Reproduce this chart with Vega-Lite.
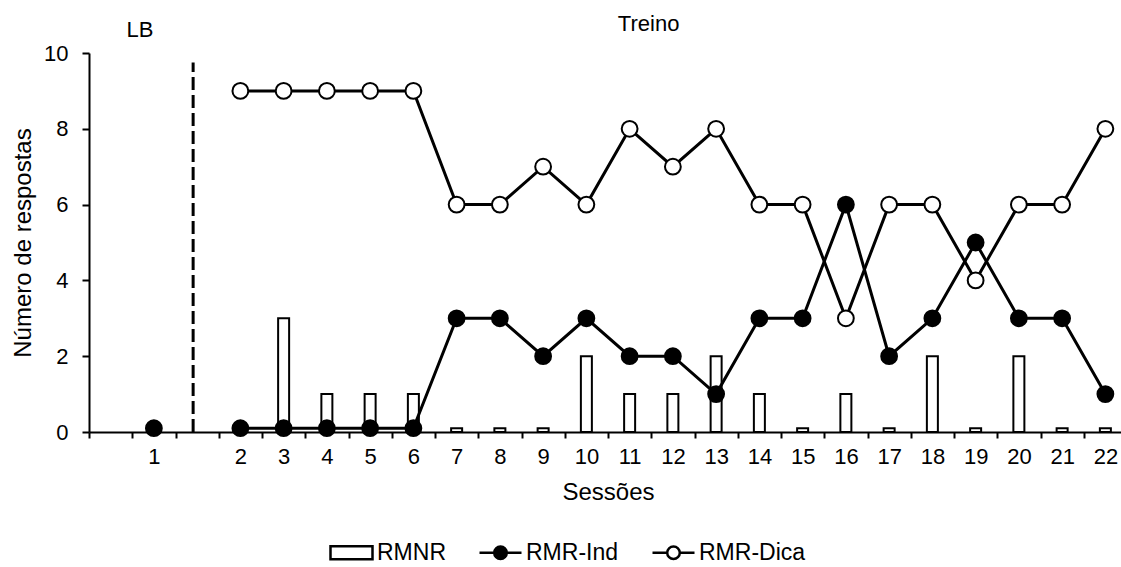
{
  "$schema": "https://vega.github.io/schema/vega-lite/v6.json",
  "width": 1038,
  "height": 379,
  "autosize": "none",
  "padding": {"left": 89, "top": 53, "right": 0, "bottom": 135},
  "background": "white",
  "config": {
    "font": "Liberation Sans",
    "view": {"stroke": null},
    "axis": {
      "labelFont": "Liberation Sans",
      "titleFont": "Liberation Sans",
      "labelFontSize": 22,
      "titleFontSize": 24,
      "titleFontWeight": "normal",
      "labelColor": "black",
      "titleColor": "black",
      "domainColor": "black",
      "tickColor": "black",
      "domainWidth": 2,
      "tickWidth": 2,
      "grid": false
    },
    "legend": {
      "labelFont": "Liberation Sans",
      "labelFontSize": 23,
      "labelColor": "black"
    }
  },
  "datasets": {
    "main": [
      {"session": 2, "series": "RMNR", "phase": "Treino", "value": 0.1},
      {"session": 3, "series": "RMNR", "phase": "Treino", "value": 3},
      {"session": 4, "series": "RMNR", "phase": "Treino", "value": 1},
      {"session": 5, "series": "RMNR", "phase": "Treino", "value": 1},
      {"session": 6, "series": "RMNR", "phase": "Treino", "value": 1},
      {"session": 7, "series": "RMNR", "phase": "Treino", "value": 0.1},
      {"session": 8, "series": "RMNR", "phase": "Treino", "value": 0.1},
      {"session": 9, "series": "RMNR", "phase": "Treino", "value": 0.1},
      {"session": 10, "series": "RMNR", "phase": "Treino", "value": 2},
      {"session": 11, "series": "RMNR", "phase": "Treino", "value": 1},
      {"session": 12, "series": "RMNR", "phase": "Treino", "value": 1},
      {"session": 13, "series": "RMNR", "phase": "Treino", "value": 2},
      {"session": 14, "series": "RMNR", "phase": "Treino", "value": 1},
      {"session": 15, "series": "RMNR", "phase": "Treino", "value": 0.1},
      {"session": 16, "series": "RMNR", "phase": "Treino", "value": 1},
      {"session": 17, "series": "RMNR", "phase": "Treino", "value": 0.1},
      {"session": 18, "series": "RMNR", "phase": "Treino", "value": 2},
      {"session": 19, "series": "RMNR", "phase": "Treino", "value": 0.1},
      {"session": 20, "series": "RMNR", "phase": "Treino", "value": 2},
      {"session": 21, "series": "RMNR", "phase": "Treino", "value": 0.1},
      {"session": 22, "series": "RMNR", "phase": "Treino", "value": 0.1},
      {"session": 1, "series": "RMR-Ind", "phase": "LB", "value": 0.1},
      {"session": 2, "series": "RMR-Ind", "phase": "Treino", "value": 0.1},
      {"session": 3, "series": "RMR-Ind", "phase": "Treino", "value": 0.1},
      {"session": 4, "series": "RMR-Ind", "phase": "Treino", "value": 0.1},
      {"session": 5, "series": "RMR-Ind", "phase": "Treino", "value": 0.1},
      {"session": 6, "series": "RMR-Ind", "phase": "Treino", "value": 0.1},
      {"session": 7, "series": "RMR-Ind", "phase": "Treino", "value": 3},
      {"session": 8, "series": "RMR-Ind", "phase": "Treino", "value": 3},
      {"session": 9, "series": "RMR-Ind", "phase": "Treino", "value": 2},
      {"session": 10, "series": "RMR-Ind", "phase": "Treino", "value": 3},
      {"session": 11, "series": "RMR-Ind", "phase": "Treino", "value": 2},
      {"session": 12, "series": "RMR-Ind", "phase": "Treino", "value": 2},
      {"session": 13, "series": "RMR-Ind", "phase": "Treino", "value": 1},
      {"session": 14, "series": "RMR-Ind", "phase": "Treino", "value": 3},
      {"session": 15, "series": "RMR-Ind", "phase": "Treino", "value": 3},
      {"session": 16, "series": "RMR-Ind", "phase": "Treino", "value": 6},
      {"session": 17, "series": "RMR-Ind", "phase": "Treino", "value": 2},
      {"session": 18, "series": "RMR-Ind", "phase": "Treino", "value": 3},
      {"session": 19, "series": "RMR-Ind", "phase": "Treino", "value": 5},
      {"session": 20, "series": "RMR-Ind", "phase": "Treino", "value": 3},
      {"session": 21, "series": "RMR-Ind", "phase": "Treino", "value": 3},
      {"session": 22, "series": "RMR-Ind", "phase": "Treino", "value": 1},
      {"session": 2, "series": "RMR-Dica", "phase": "Treino", "value": 9},
      {"session": 3, "series": "RMR-Dica", "phase": "Treino", "value": 9},
      {"session": 4, "series": "RMR-Dica", "phase": "Treino", "value": 9},
      {"session": 5, "series": "RMR-Dica", "phase": "Treino", "value": 9},
      {"session": 6, "series": "RMR-Dica", "phase": "Treino", "value": 9},
      {"session": 7, "series": "RMR-Dica", "phase": "Treino", "value": 6},
      {"session": 8, "series": "RMR-Dica", "phase": "Treino", "value": 6},
      {"session": 9, "series": "RMR-Dica", "phase": "Treino", "value": 7},
      {"session": 10, "series": "RMR-Dica", "phase": "Treino", "value": 6},
      {"session": 11, "series": "RMR-Dica", "phase": "Treino", "value": 8},
      {"session": 12, "series": "RMR-Dica", "phase": "Treino", "value": 7},
      {"session": 13, "series": "RMR-Dica", "phase": "Treino", "value": 8},
      {"session": 14, "series": "RMR-Dica", "phase": "Treino", "value": 6},
      {"session": 15, "series": "RMR-Dica", "phase": "Treino", "value": 6},
      {"session": 16, "series": "RMR-Dica", "phase": "Treino", "value": 3},
      {"session": 17, "series": "RMR-Dica", "phase": "Treino", "value": 6},
      {"session": 18, "series": "RMR-Dica", "phase": "Treino", "value": 6},
      {"session": 19, "series": "RMR-Dica", "phase": "Treino", "value": 4},
      {"session": 20, "series": "RMR-Dica", "phase": "Treino", "value": 6},
      {"session": 21, "series": "RMR-Dica", "phase": "Treino", "value": 6},
      {"session": 22, "series": "RMR-Dica", "phase": "Treino", "value": 8}
    ],
    "notes": [
      {"note": "LB", "session": 1.5}
    ]
  },
  "layer": [
    {
      "data": {"name": "main"},
      "transform": [{"filter": "datum.series == 'RMNR'"}],
      "mark": {"type": "bar", "fill": "white", "stroke": "black", "strokeWidth": 2, "width": 11},
      "encoding": {
        "x": {
          "field": "session",
          "type": "ordinal",
          "scale": {
            "type": "band",
            "domain": [0, 1, 1.5, 2, 3, 4, 5, 6, 7, 8, 9, 10, 11, 12, 13, 14, 15, 16, 17, 18, 19, 20, 21, 22],
            "paddingInner": 0,
            "paddingOuter": 0
          },
          "axis": {
            "title": "Sessões",
            "labelAngle": 0,
            "labelExpr": "datum.value == 0 || datum.value == 1.5 ? '' : datum.label",
            "tickBand": "extent",
            "tickSize": 6,
            "labelPadding": 8,
            "titlePadding": 13
          }
        },
        "y": {
          "field": "value",
          "type": "quantitative",
          "scale": {"domain": [0, 10], "nice": false},
          "axis": {
            "title": "Número de respostas",
            "values": [0, 2, 4, 6, 8, 10],
            "tickSize": 7,
            "labelPadding": 14,
            "titlePadding": 8
          }
        }
      }
    },
    {
      "data": {"name": "notes"},
      "mark": {"type": "rule", "color": "black", "strokeWidth": 3, "strokeDash": [13, 5], "xOffset": -4},
      "encoding": {
        "x": {"field": "session", "type": "ordinal"},
        "y": {"datum": 0, "type": "quantitative"},
        "y2": {"datum": 9.75}
      }
    },
    {
      "data": {"name": "main"},
      "transform": [{"filter": "datum.series != 'RMNR'"}],
      "mark": {"type": "line", "stroke": "black", "strokeWidth": 3},
      "encoding": {
        "x": {"field": "session", "type": "ordinal"},
        "y": {"field": "value", "type": "quantitative"},
        "detail": [{"field": "series"}, {"field": "phase"}],
        "order": {"field": "session", "type": "quantitative"}
      }
    },
    {
      "data": {"name": "main"},
      "transform": [{"filter": "datum.series == 'RMR-Ind'"}],
      "mark": {"type": "point", "filled": true, "shape": "circle", "size": 250, "fill": "black", "stroke": "black", "strokeWidth": 2, "opacity": 1},
      "encoding": {
        "x": {"field": "session", "type": "ordinal"},
        "y": {"field": "value", "type": "quantitative"}
      }
    },
    {
      "data": {"name": "main"},
      "transform": [{"filter": "datum.series == 'RMR-Dica'"}],
      "mark": {"type": "point", "filled": true, "shape": "circle", "size": 250, "fill": "white", "stroke": "black", "strokeWidth": 2, "opacity": 1},
      "encoding": {
        "x": {"field": "session", "type": "ordinal"},
        "y": {"field": "value", "type": "quantitative"}
      }
    },
    {
      "data": {"name": "main"},
      "mark": {"type": "point", "filled": true, "opacity": 0, "stroke": "black", "strokeWidth": 2.5},
      "encoding": {
        "x": {"field": "session", "type": "ordinal"},
        "y": {"field": "value", "type": "quantitative"},
        "fill": {
          "field": "series",
          "type": "nominal",
          "scale": {"domain": ["RMNR", "RMR-Ind", "RMR-Dica"], "range": ["white", "black", "white"]},
          "legend": {
            "title": null,
            "orient": "none",
            "direction": "horizontal",
            "legendX": 240,
            "legendY": 477,
            "symbolSize": 1764,
            "symbolStrokeWidth": 2.5,
            "symbolOpacity": 1,
            "labelOffset": 3,
            "columnPadding": 28
          }
        },
        "shape": {
          "field": "series",
          "type": "nominal",
          "scale": {
            "domain": ["RMNR", "RMR-Ind", "RMR-Dica"],
            "range": [
              "M-1,-0.31H1V0.31H-1Z",
              "M-1,0H-0.3M0.3,0H1M0.3,0A0.3,0.3,0,1,1,-0.3,0A0.3,0.3,0,1,1,0.3,0Z",
              "M-1,0H-0.3M0.3,0H1M0.3,0A0.3,0.3,0,1,1,-0.3,0A0.3,0.3,0,1,1,0.3,0Z"
            ]
          },
          "legend": {
            "title": null,
            "orient": "none",
            "direction": "horizontal",
            "legendX": 240,
            "legendY": 477,
            "symbolSize": 1764,
            "symbolStrokeWidth": 2.5,
            "symbolOpacity": 1,
            "labelOffset": 3,
            "columnPadding": 28
          }
        }
      }
    },
    {
      "data": {"name": "notes"},
      "mark": {"type": "text", "text": "LB", "fontSize": 22, "color": "black", "dx": -14, "dy": -23, "baseline": "middle"},
      "encoding": {
        "x": {"datum": 1, "type": "ordinal"},
        "y": {"datum": 10, "type": "quantitative"}
      }
    },
    {
      "data": {"name": "notes"},
      "mark": {"type": "text", "text": "Treino", "fontSize": 22, "color": "black", "dx": 19, "dy": -29, "baseline": "middle"},
      "encoding": {
        "x": {"datum": 11, "type": "ordinal"},
        "y": {"datum": 10, "type": "quantitative"}
      }
    }
  ]
}
